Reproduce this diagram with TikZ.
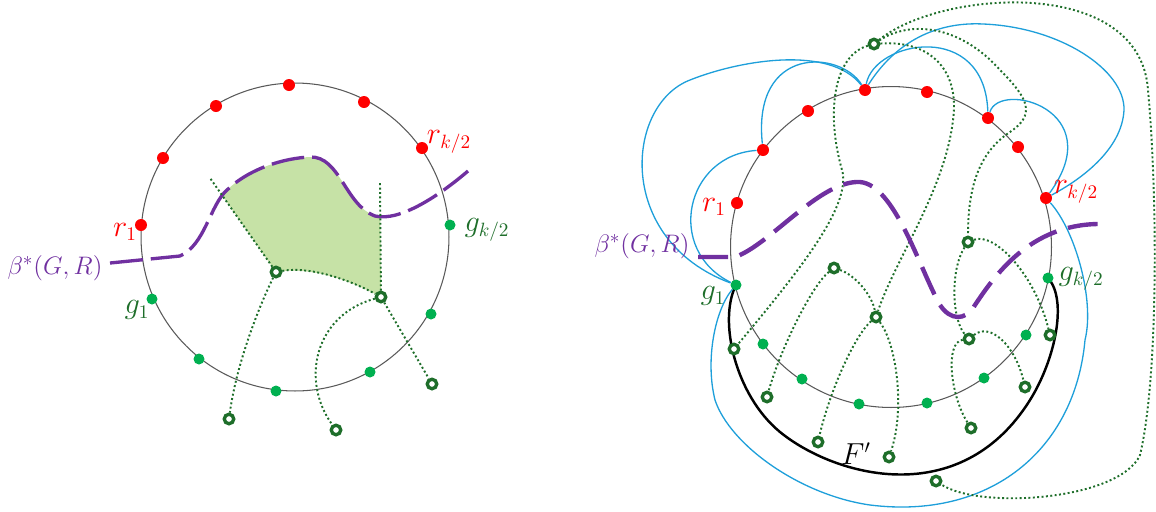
\documentclass[tikz,border=0pt]{standalone}
\usepackage{xcolor}
\usepackage{tikz}
\usetikzlibrary{backgrounds}

\definecolor{cRed}{HTML}{FF0000}
\definecolor{cGreen}{HTML}{00B050}
\definecolor{cDark}{HTML}{1E6E2A}
\definecolor{cViolet}{HTML}{7030A0}
\definecolor{cBlue}{HTML}{1E9FDA}
\definecolor{cFace}{HTML}{C6E2A6}
\definecolor{cRim}{HTML}{595959}

\tikzset{
    rdot/.style={circle, fill=cRed, inner sep=0pt, minimum size=0.24cm},
    gdot/.style={circle, fill=cGreen, inner sep=0pt, minimum size=0.22cm},
    fnode/.style={circle, draw=cDark, fill=white, line width=1.9pt, inner sep=0pt, minimum size=0.19cm},
    dualedge/.style={cDark, line width=1.1pt, dash pattern=on 1.1pt off 1.4pt},
    redge/.style={cBlue, line width=0.75pt},
    rim/.style={cRim, line width=0.6pt},
    lbl/.style={font=\fontsize{16}{19}\selectfont, inner sep=0pt},
    blbl/.style={font=\fontsize{15}{18}\selectfont, inner sep=0pt, cViolet},
}

\begin{document}
\begin{tikzpicture}[x=0.02cm, y=-0.02cm]
    \useasboundingbox (0,0) rectangle (1156,511);

    % left drawing
    \draw[rim] (295,237) circle [radius=3.08cm];

    \node[rdot] (Lr1) at (141,225) {};
    \node[rdot] (Lr2) at (163,158) {};
    \node[rdot] (Lr3) at (216,106) {};
    \node[rdot] (Lr4) at (289,85) {};
    \node[rdot] (Lr5) at (364,102) {};
    \node[rdot] (Lr6) at (422,148) {};
    \node[gdot] (Lg1) at (152,299) {};
    \node[gdot] (Lg2) at (199,359) {};
    \node[gdot] (Lg3) at (276,391) {};
    \node[gdot] (Lg4) at (370,372) {};
    \node[gdot] (Lg5) at (431,314) {};
    \node[gdot] (Lg6) at (450,225) {};

    \node[fnode] (La) at (276,272) {};
    \node[fnode] (Lb) at (381,297) {};
    \node[fnode] (Lc) at (229,419) {};
    \node[fnode] (Ld) at (336,430) {};
    \node[fnode] (Le) at (432,384) {};
    \coordinate (Lta) at (210,178);
    \coordinate (Ltb) at (380,182);

    \begin{scope}[on background layer]
        \clip (110,263) -- (180,256) .. controls (205,245) and (210,205) .. (227,190)
            .. controls (250,168) and (285,158) .. (310,157)
            .. controls (340,156) and (345,205) .. (375,216)
            .. controls (400,222) and (440,195) .. (468,171) -- (468,511) -- (110,511) -- cycle;
        \fill[cFace] (La.center) -- (Lta) -- (196,158) -- (380,140) -- (Ltb) -- (Lb.center)
            .. controls (350,280) and (310,266) .. (La.center) -- cycle;
    \end{scope}

    \draw[cViolet, line width=1.9pt, dash pattern=on 0.66cm off 0.16cm]
        (110,263) -- (180,256) .. controls (205,245) and (210,205) .. (227,190)
        .. controls (250,168) and (285,158) .. (310,157)
        .. controls (340,156) and (345,205) .. (375,216)
        .. controls (400,222) and (440,195) .. (468,171);

    \draw[dualedge] (La) -- (Lta);
    \draw[dualedge] (Lb) -- (Ltb);
    \draw[dualedge] (La) .. controls (310,266) and (350,280) .. (Lb);
    \draw[dualedge] (La) .. controls (262,300) and (237,360) .. (Lc);
    \draw[dualedge] (Lb) .. controls (315,315) and (300,380) .. (Ld);
    \draw[dualedge] (Lb) -- (Le);

    \node[lbl, cRed] (Llr1) at (125,232) {$r_1$};
    \node[lbl, cRed] (Llrk) at (449,142) {$r_{k/2}$};
    \node[lbl, cDark] (Llgk) at (487,230) {$g_{k/2}$};
    \node[lbl, cDark] (Llg1) at (137,310) {$g_1$};
    \node[blbl] (Llbeta) at (55,268) {$\beta^*(G,R)$};

    % right drawing
    \draw[rim] (891,247) circle [radius=3.21cm];
    \draw[black, line width=1.4pt] (736,285) .. controls (718,320) and (735,395) .. (780,432)
        .. controls (834,476) and (960,512) .. (1030,400)
        .. controls (1055,360) and (1068,300) .. (1048,278);

    \node[rdot] (Rr1) at (737,203) {};
    \node[rdot] (Rr2) at (763,150) {};
    \node[rdot] (Rr3) at (808,111) {};
    \node[rdot] (Rr4) at (865,90) {};
    \node[rdot] (Rr5) at (927,92) {};
    \node[rdot] (Rr6) at (988,118) {};
    \node[rdot] (Rr7) at (1018,147) {};
    \node[rdot] (Rr8) at (1046,198) {};
    \node[gdot] (Rg1) at (736,285) {};
    \node[gdot] (Rg2) at (763,344) {};
    \node[gdot] (Rg3) at (802,379) {};
    \node[gdot] (Rg4) at (859,404) {};
    \node[gdot] (Rg5) at (927,403) {};
    \node[gdot] (Rg6) at (984,378) {};
    \node[gdot] (Rg7) at (1026,335) {};
    \node[gdot] (Rg8) at (1048,278) {};

    \node[fnode] (Rv1) at (874,44) {};
    \node[fnode] (Rv2) at (968,242) {};
    \node[fnode] (Rv3) at (834,268) {};
    \node[fnode] (Rv4) at (876,317) {};
    \node[fnode] (Rv5) at (734,349) {};
    \node[fnode] (Rv6) at (767,397) {};
    \node[fnode] (Rv7) at (818,442) {};
    \node[fnode] (Rv8) at (889,457) {};
    \node[fnode] (Rv9) at (969,339) {};
    \node[fnode] (Rv10) at (1050,335) {};
    \node[fnode] (Rv11) at (1025,387) {};
    \node[fnode] (Rv12) at (971,428) {};
    \node[fnode] (Rv13) at (936,481) {};

    \draw[redge] (Rr4) .. controls (840,50) and (752,45) .. (Rr2);
    \draw[redge] (Rr4) .. controls (830,45) and (740,60) .. (690,80)
        .. controls (625,105) and (615,240) .. (Rg1);
    \draw[redge] (Rr2) .. controls (685,155) and (665,250) .. (Rg1);
    \draw[redge] (Rr4) .. controls (875,40) and (985,20) .. (Rr6);
    \draw[redge] (Rr4) .. controls (900,35) and (945,22) .. (983,24)
        .. controls (1060,27) and (1125,70) .. (1124,110)
        .. controls (1122,150) and (1080,180) .. (Rr8);
    \draw[redge] (Rr6) .. controls (1000,80) and (1110,110) .. (Rr8);
    \draw[redge] (Rr8) .. controls (1075,230) and (1095,300) .. (1085,340)
        .. controls (1075,450) and (990,520) .. (870,505)
        .. controls (800,495) and (730,445) .. (715,400)
        .. controls (705,360) and (715,310) .. (Rg1);

    \draw[dualedge] (Rv1) .. controls (940,-10) and (1140,-25) .. (1148,90)
        .. controls (1158,200) and (1158,380) .. (1140,455)
        .. controls (1120,500) and (980,510) .. (Rv13);
    \draw[dualedge] (Rv1) .. controls (910,20) and (960,25) .. (1000,70)
        .. controls (1030,100) and (1035,115) .. (1010,132)
        .. controls (975,155) and (968,195) .. (Rv2);
    \draw[dualedge] (Rv1) .. controls (930,40) and (960,70) .. (953,120)
        .. controls (945,190) and (895,260) .. (Rv4);
    \draw[dualedge] (Rv1) .. controls (835,55) and (825,110) .. (842,170)
        .. controls (852,205) and (800,270) .. (Rv5);
    \draw[dualedge] (Rv3) .. controls (812,285) and (780,350) .. (Rv6);
    \draw[dualedge] (Rv3) .. controls (855,275) and (872,295) .. (Rv4);
    \draw[dualedge] (Rv4) .. controls (855,335) and (830,390) .. (Rv7);
    \draw[dualedge] (Rv4) .. controls (897,345) and (905,410) .. (Rv8);
    \draw[dualedge] (Rv2) .. controls (950,270) and (952,320) .. (Rv9);
    \draw[dualedge] (Rv2) .. controls (995,232) and (1035,275) .. (Rv10);
    \draw[dualedge] (Rv9) .. controls (945,342) and (950,395) .. (Rv12);
    \draw[dualedge] (Rv9) .. controls (990,322) and (1015,345) .. (Rv11);

    \draw[cViolet, line width=2.5pt, dash pattern=on 0.6cm off 0.24cm]
        (698,257) -- (735,257) .. controls (770,245) and (820,180) .. (860,182)
        .. controls (895,185) and (920,270) .. (940,305)
        .. controls (950,320) and (965,322) .. (975,305)
        .. controls (995,275) and (1030,225) .. (1098,224);

    \node[lbl, cRed] (Rlr1) at (714,207) {$r_1$};
    \node[lbl, cRed] (Rlrk) at (1076,192) {$r_{k/2}$};
    \node[lbl, cDark] (Rlg1) at (713,296) {$g_1$};
    \node[lbl, cDark] (Rlgk) at (1081,279) {$g_{k/2}$};
    \node[blbl] (Rlbeta) at (642,246) {$\beta^*(G,R)$};
    \node[lbl] (Rlface) at (856,454) {$F'$};
\end{tikzpicture}
\end{document}
